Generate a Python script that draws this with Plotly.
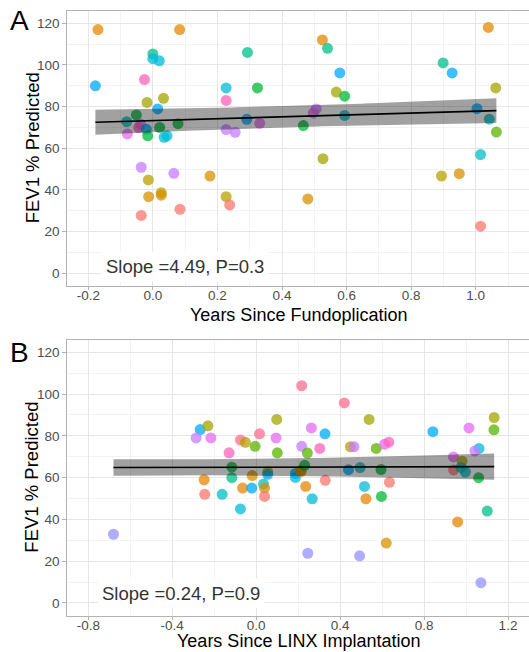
import numpy as np
import plotly.graph_objects as go

# ---------------- palette (ggplot-like hues) ----------------
PAL = {
    "red": "#F8766D", "orange": "#E58700", "amber": "#D89000", "khaki": "#B9A000",
    "olive": "#A3A500", "ygreen": "#5BB300", "green": "#00BA38", "tgreen": "#00C08B",
    "teal": "#00BFC4", "cyan": "#00BCD8", "blue": "#00A9FF", "lav": "#9590FF",
    "violet": "#C77CFF", "magenta": "#E76BF3", "pink": "#FF62BC", "rose": "#FF6C91",
}

# ---------------- Panel A data ----------------
A_x = [-0.170, 0.083, 0.000, 0.000, 0.020, -0.178, -0.026, -0.018, 0.033, 0.015,
       -0.051, -0.081, -0.038, -0.044, -0.020, 0.021, 0.078, -0.079, -0.016, 0.035,
       0.044, 0.227, 0.227, 0.293, 0.324, 0.227, 0.255, 0.291, 0.331, 0.466,
       0.525, 0.541, 0.579, 0.568, 0.594, 0.506, 0.497, 0.594, 0.527, 1.039,
       0.899, 0.927, 1.062, 1.004, 1.042, 1.064, 1.015, -0.036, -0.014, 0.065,
       0.177, -0.013, 0.026, 0.026, 0.227, -0.036, 0.084, 0.238, 0.480, 0.894,
       0.949, 1.015]
A_y = [117, 117, 105.3, 103, 102, 90, 93, 82, 84, 78.9,
       76, 72.8, 71.5, 69.9, 69.1, 70, 71.8, 66.9, 66, 65.3,
       66, 89, 83, 106, 89, 69, 67.7, 73.9, 72, 70.9,
       112, 108, 96.2, 87, 85, 78.9, 77, 75.8, 55, 118,
       101, 96.2, 89, 79, 74, 67.8, 57, 50.9, 44.8, 48,
       46.7, 36.8, 38.7, 37.5, 36.8, 27.8, 30.7, 32.8, 35.7, 46.7,
       47.8, 22.6]
A_col = ["orange", "orange", "tgreen", "cyan", "cyan", "blue", "pink", "olive", "olive", "blue",
         "green", "teal", "violet", "pink", "blue", "green", "green", "magenta", "green", "cyan",
         "cyan", "cyan", "pink", "tgreen", "green", "violet", "violet", "blue", "magenta", "green",
         "orange", "tgreen", "blue", "olive", "green", "violet", "magenta", "teal", "olive", "orange",
         "tgreen", "blue", "olive", "blue", "teal", "ygreen", "teal", "violet", "khaki", "violet",
         "amber", "amber", "khaki", "amber", "khaki", "red", "red", "red", "amber", "khaki",
         "amber", "red"]

# ---------------- Panel B data ----------------
B_x = [-0.680, 0.217, 0.420, 0.098, 0.538, -0.267, -0.230, -0.286, -0.216, -0.075,
       -0.052, 0.016, 0.095, 0.217, -0.129, -0.005, 0.101, -0.116, -0.116, -0.248,
       -0.245, -0.162, -0.065, -0.021, -0.019, 0.055, 0.055, 0.035, 0.040, 0.040,
       -0.075, 0.187, 0.187, 0.213, 0.214, 0.231, 0.263, 0.328, 0.244, 0.303,
       0.449, 0.466, 0.572, 0.612, 0.632, 0.440, 0.495, 0.595, 0.329, 0.236,
       0.516, 0.635, 0.267, 0.523, 0.597, 1.060, 1.101, 0.960, 0.620, 0.246,
       0.493, 1.071, 0.842, 1.014, 1.134, 1.133, 1.062, 1.042, 0.940, 0.981,
       0.941, 0.976, 0.997]
B_y = [32.9, 104, 95.8, 87.9, 87.9, 83, 84.8, 79, 79, 78,
       76.9, 81, 79, 75, 71.9, 75, 71.9, 65, 60, 59,
       52, 52, 55, 55, 61, 62.8, 61.6, 57, 55, 51,
       45, 60.1, 62, 63.5, 63, 65.9, 83.8, 81, 71.8, 74,
       74.8, 74.8, 74, 76, 77, 63.8, 64.8, 63.9, 58.7, 55.8,
       55.8, 57.8, 49.9, 49.9, 51, 60, 44, 38.8, 28.7, 23.8,
       22.6, 9.7, 82, 83.8, 88.8, 82.9, 74, 72.8, 69.9, 67.9,
       63.7, 64.9, 62.7]
B_col = ["lav", "rose", "rose", "olive", "olive", "blue", "olive", "violet", "magenta", "rose",
         "khaki", "rose", "magenta", "violet", "pink", "ygreen", "ygreen", "green", "tgreen", "orange",
         "red", "teal", "orange", "blue", "amber", "khaki", "blue", "teal", "amber", "red",
         "cyan", "cyan", "blue", "khaki", "amber", "green", "magenta", "blue", "ygreen", "pink",
         "khaki", "violet", "ygreen", "magenta", "pink", "blue", "teal", "green", "red", "orange",
         "cyan", "red", "cyan", "orange", "green", "green", "tgreen", "orange", "amber", "lav",
         "lav", "lav", "blue", "magenta", "olive", "ygreen", "cyan", "violet", "magenta", "khaki",
         "red", "teal", "teal"]

# ---------------- fit summaries ----------------
A_fit = dict(intercept=73.3, slope=4.49, ci_center=0.44, ci_min=5.1, ci_k=25.0)
B_fit = dict(intercept=65.0, slope=0.24, ci_center=-0.35, ci_min=3.8, ci_k=11.5)
A_label = "Slope =4.49, P=0.3"
B_label = "Slope =0.24, P=0.9"
A_label_pos = (0.0985, 3.5)
B_label_pos = (-0.357, 4.6)

y_ticks = [0, 20, 40, 60, 80, 100, 120]
A_xticks = [-0.2, 0.0, 0.2, 0.4, 0.6, 0.8, 1.0]
B_xticks = [-0.8, -0.4, 0.0, 0.4, 0.8, 1.2]

FONT = "Liberation Sans"
fig = go.Figure()


def add_panel(xs, ys, cols, fit, xa, ya):
    fig.add_trace(go.Scatter(
        x=xs, y=ys, mode="markers", xaxis=xa, yaxis=ya, showlegend=False,
        marker=dict(size=11, color=[PAL[c] for c in cols], opacity=0.75, line=dict(width=0)),
        hoverinfo="skip"))
    gx = np.linspace(min(xs), max(xs), 120)
    gy = fit["intercept"] + fit["slope"] * gx
    hw = np.sqrt(fit["ci_min"] ** 2 + fit["ci_k"] * (gx - fit["ci_center"]) ** 2)
    fig.add_trace(go.Scatter(
        x=np.concatenate([gx, gx[::-1]]), y=np.concatenate([gy + hw, (gy - hw)[::-1]]),
        fill="toself", fillcolor="rgba(0,0,0,0.37)", line=dict(width=0), mode="lines",
        xaxis=xa, yaxis=ya, showlegend=False, hoverinfo="skip"))
    fig.add_trace(go.Scatter(x=gx, y=gy, mode="lines", line=dict(color="black", width=1.6),
                             xaxis=xa, yaxis=ya, showlegend=False, hoverinfo="skip"))


add_panel(A_x, A_y, A_col, A_fit, "x", "y")
add_panel(B_x, B_y, B_col, B_fit, "x2", "y2")

W, H = 529, 652
xdom = [67.3 / W, 1.0]
A_dom = [1 - 285.8 / H, 1 - 10.8 / H]
B_dom = [1 - 615.5 / H, 1 - 339.8 / H]

grid = "#E6E6E6"
mgrid = "#F3F3F3"
border = "#B3B3B3"
tickfont = dict(family=FONT, size=13.5, color="#4D4D4D")


def xaxis(dom, rng, ticks, anchor, minor_dt):
    return dict(domain=dom, range=rng, anchor=anchor, tickvals=ticks,
                ticktext=[f"{t:.1f}" for t in ticks], showgrid=True, gridcolor=grid, gridwidth=1,
                minor=dict(dtick=minor_dt, tick0=0, showgrid=True, gridcolor=mgrid, gridwidth=1),
                zeroline=False, showline=True, mirror=True, linecolor=border, linewidth=1.3,
                ticks="outside", ticklen=3, tickcolor=border, tickfont=tickfont, automargin=False,
                ticklabelstandoff=-6)


def yaxis(dom, anchor):
    return dict(domain=dom, range=[-6, 126], anchor=anchor, tickvals=y_ticks,
                showgrid=True, gridcolor=grid, gridwidth=1,
                minor=dict(dtick=10, tick0=0, showgrid=True, gridcolor=mgrid, gridwidth=1),
                zeroline=False, showline=True, mirror=False, linecolor=border, linewidth=1.3,
                ticks="outside", ticklen=4, tickcolor=border, tickfont=tickfont, automargin=False)


fig.update_layout(
    width=W, height=H, margin=dict(l=0, r=0, t=0, b=0),
    paper_bgcolor="white", plot_bgcolor="white",
    font=dict(family=FONT),
    xaxis=xaxis(xdom, [-0.265, 1.165], A_xticks, "y", 0.1),
    yaxis=yaxis(A_dom, "x"),
    xaxis2=xaxis(xdom, [-0.9, 1.3], B_xticks, "y2", 0.2),
    yaxis2=yaxis(B_dom, "x2"),
)

ann = []
title_font = dict(family=FONT, size=18.5, color="black")
xt_font = dict(family=FONT, size=18, color="black")
xc = (67.3 + W) / 2 / W
for ycen_px in [(10.8 + 285.8) / 2, (339.8 + 615.5) / 2]:
    ann.append(dict(text="FEV1 % Predicted", x=32 / W, y=1 - ycen_px / H, xref="paper", yref="paper",
                    textangle=-90, showarrow=False, font=title_font, xanchor="center", yanchor="middle"))
ann.append(dict(text="Years Since Fundoplication", x=xc, y=1 - 315 / H, xref="paper", yref="paper",
                showarrow=False, font=xt_font, xanchor="center", yanchor="middle"))
ann.append(dict(text="Years Since LINX Implantation", x=xc, y=0.0, xref="paper", yref="paper",
                showarrow=False, font=xt_font, xanchor="center", yanchor="bottom", borderpad=0))
ann.append(dict(text="A", x=19 / W, y=1 - 20 / H, xref="paper", yref="paper", showarrow=False,
                font=dict(family=FONT, size=28, color="black"), xanchor="center", yanchor="middle"))
ann.append(dict(text="B", x=19 / W, y=1 - 352 / H, xref="paper", yref="paper", showarrow=False,
                font=dict(family=FONT, size=28, color="black"), xanchor="center", yanchor="middle"))
slope_font = dict(family=FONT, size=18.5, color="#333333")
ann.append(dict(text=A_label, x=A_label_pos[0], y=A_label_pos[1], xref="x", yref="y", showarrow=False,
                font=slope_font, bgcolor="white", borderpad=4, xanchor="center", yanchor="middle"))
ann.append(dict(text=B_label, x=B_label_pos[0], y=B_label_pos[1], xref="x2", yref="y2", showarrow=False,
                font=slope_font, bgcolor="white", borderpad=4, xanchor="center", yanchor="middle"))
fig.update_layout(annotations=ann)

fig.write_html("out.html")
